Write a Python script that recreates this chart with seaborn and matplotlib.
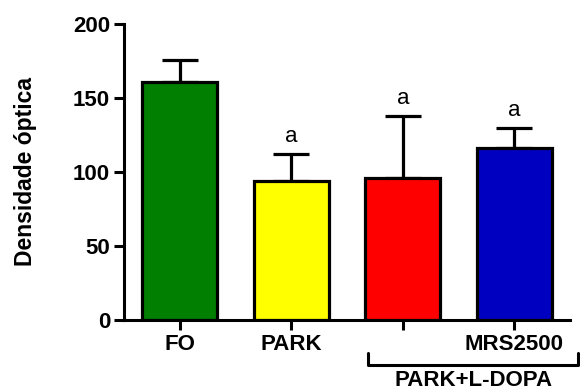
import matplotlib
matplotlib.use("Agg")
import matplotlib.pyplot as plt
import matplotlib.transforms as mtransforms
import numpy as np
import pandas as pd
import seaborn as sns

# values
groups = ['FO', 'PARK', 'PARK+L-DOPA', 'MRS2500']
tick_labels = ['FO', 'PARK', '', 'MRS2500']
means = [161, 94, 96, 116.5]
sem = [15, 18, 42, 13.5]
letters = ['', 'a', 'a', 'a']
colors = ['#007F00', '#FFFF00', '#FF0000', '#0000C0']

df = pd.DataFrame({'group': groups, 'mean': means})

sns.set_style('ticks', rc={'axes.edgecolor': 'black', 'xtick.color': 'black',
                           'ytick.color': 'black', 'text.color': 'black',
                           'axes.labelcolor': 'black'})
plt.rcParams['font.family'] = ['Liberation Sans', 'DejaVu Sans']
plt.rcParams['font.weight'] = 'bold'

fig = plt.figure(figsize=(5.8, 3.92), dpi=100)
ax = fig.add_axes([0.2138, 0.1837, 0.983 - 0.2138, 0.9388 - 0.1837])

sns.barplot(data=df, x='group', y='mean', hue='group', palette=colors,
            saturation=1, legend=False, width=0.67, edgecolor='black',
            linewidth=2.3, errorbar=None, ax=ax, zorder=2)

x = np.arange(len(groups))
ax.errorbar(x, means, yerr=[np.zeros(len(sem)), sem], fmt='none',
            ecolor='black', elinewidth=2.3, capsize=13, capthick=2.3, zorder=1)

for xi, m, s, t in zip(x, means, sem, letters):
    if t:
        ax.annotate(t, (xi, m + s), xytext=(0, 5), textcoords='offset points',
                    ha='center', va='bottom', fontsize=16, fontweight='normal')

ax.set_xlim(-0.5, 3.5)
ax.set_ylim(0, 200)
ax.set_yticks([0, 50, 100, 150, 200])
ax.set_xticks(x)
ax.set_xticklabels(tick_labels, fontsize=16, fontweight='bold')
ax.tick_params(axis='both', width=2.2, length=7, labelsize=16, pad=3)
for lab in ax.get_yticklabels():
    lab.set_fontweight('bold')
ax.set_xlabel('')
ax.set_ylabel('Densidade óptica', fontsize=16.5, fontweight='bold', labelpad=26)

for side in ['left', 'bottom']:
    ax.spines[side].set_linewidth(2.2)
sns.despine(ax=ax)

# bracket under the L-DOPA groups
trans = mtransforms.blended_transform_factory(ax.transData, ax.transAxes)
ax.plot([1.69, 1.69, 3.57, 3.57], [-0.11, -0.152, -0.152, -0.11],
        color='black', lw=2.2, transform=trans, clip_on=False)
ax.text(2.63, -0.203, 'PARK+L-DOPA', transform=trans, ha='center', va='center',
        fontsize=16, fontweight='bold')

fig.savefig('out.png', dpi=100)
